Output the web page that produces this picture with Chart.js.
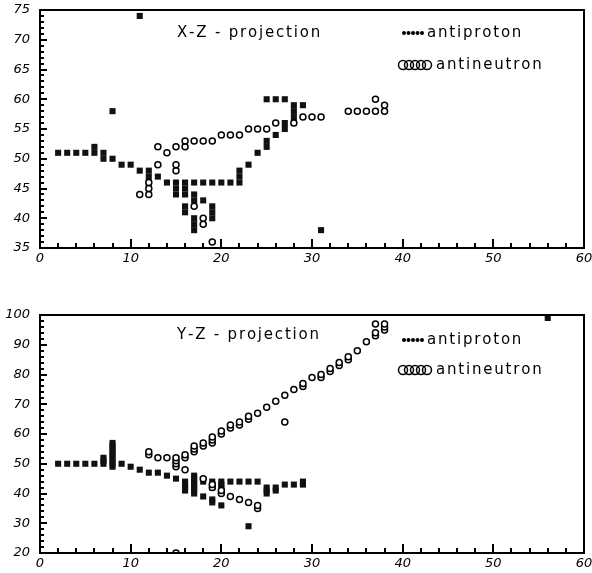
<!DOCTYPE html>
<html>
<head>
<meta charset="utf-8">
<script src="https://cdn.jsdelivr.net/npm/chart.js@4.4.1/dist/chart.umd.min.js"></script>
<style>
  html, body { margin: 0; padding: 0; background: #fff; }
  #wrap { position: relative; width: 592px; height: 573px; }
  #xz { position: absolute; left: 0; top: 0; }
  #yz { position: absolute; left: 0; top: 290px; }
</style>
</head>
<body>
<div id="wrap">
  <canvas id="xz" width="592" height="275"></canvas>
  <canvas id="yz" width="592" height="283"></canvas>
</div>
<script>
// X-Z projection
const xzProtonX = [2,3,4,5,6,6,7,7,8,8,9,10,11,11,12,12,12,12,13,14,15,15,15,16,16,16,16,16,17,17,17,17,17,17,18,18,19,19,19,19,20,21,22,22,22,23,24,25,25,25,26,26,27,27,27,28,28,28,28,29,31];
const xzProtonY = [51,51,51,51,51,52,50,51,50,58,49,49,48,74,45,46,47,48,47,46,44,45,46,41,42,44,45,46,38,39,40,43,44,46,43,46,40,41,42,46,46,46,46,47,48,49,51,52,53,60,54,60,55,56,60,56,57,58,59,59,38];
const xzNeutronX = [11,12,12,12,13,13,14,15,15,15,16,16,17,17,18,18,18,19,19,20,21,22,23,24,25,26,28,29,30,31,34,35,36,37,37,38,38];
const xzNeutronY = [44,44,45,46,49,52,51,48,49,52,52,53,42,53,39,40,53,36,53,54,54,54,55,55,55,56,56,57,57,57,58,58,58,58,60,58,59];

// Y-Z projection
const yzProtonX = [2,3,4,5,6,7,7,7,8,8,8,8,8,8,8,8,8,9,10,11,12,13,14,15,16,16,16,16,17,17,17,17,17,17,17,18,18,19,19,19,19,19,20,20,20,20,20,21,22,23,23,24,25,25,25,26,26,27,28,29,29,56];
const yzProtonY = [50,50,50,50,50,50,51,52,49,50,51,52,53,54,55,56,57,50,49,48,47,47,46,45,41,42,43,44,40,41,42,43,44,45,46,39,44,37,38,42,43,44,36,41,42,43,44,44,44,29,44,44,40,41,42,41,42,43,43,43,44,99];
const yzNeutronX = [12,12,13,14,15,15,15,15,15,16,16,16,17,17,17,18,18,18,19,19,19,19,19,20,20,20,20,21,21,21,22,22,22,23,23,23,24,24,24,25,26,27,27,28,29,29,30,31,31,32,32,33,33,34,34,35,36,37,37,37,38,38,38];
const yzNeutronY = [53,54,52,52,20,49,50,51,52,48,52,53,54,55,56,45,56,57,42,43,57,58,59,40,41,60,61,39,62,63,38,63,64,37,65,66,35,36,67,69,71,64,73,75,76,77,79,79,80,81,82,83,84,85,86,88,91,93,94,97,95,96,97];

const xTicks = [0, 10, 20, 30, 40, 50, 60];

function pts(xs, ys) {
    return xs.map((x, i) => ({ x: x, y: ys[i] }));
}

// wide lettering, one glyph at a time
function spaced(ctx, str, x, y, sp) {
    for (const ch of str) {
        ctx.fillText(ch, x, y);
        x += ctx.measureText(ch).width + sp;
    }
}

// frame, inward ticks, title and hand-drawn key
const decor = {
    id: 'decor',
    afterDraw(chart, args, o) {
        const ctx = chart.ctx;
        const a = chart.chartArea;
        const sx = chart.scales.x, sy = chart.scales.y;
        const L = Math.round(a.left), R = Math.round(a.right);
        const T = Math.round(a.top), B = Math.round(a.bottom);
        ctx.save();
        ctx.fillStyle = '#000';
        for (let v = 0; v <= 60; v += 2) {
            const px = Math.round(sx.getPixelForValue(v));
            const len = v % 10 === 0 ? 9 : 5;
            ctx.fillRect(px - 1, B - len, 2, len);
        }
        for (let v = sy.min; v <= sy.max; v += o.yMinor) {
            const py = Math.round(sy.getPixelForValue(v));
            const len = v % o.yMajor === 0 ? 7 : 4;
            ctx.fillRect(L, py - 1, len, 2);
        }
        ctx.fillRect(L - 1, T - 1, R - L + 2, 2);
        ctx.fillRect(L - 1, B - 1, R - L + 2, 2);
        ctx.fillRect(L - 1, T - 1, 2, B - T + 2);
        ctx.fillRect(R - 1, T - 1, 2, B - T + 2);

        ctx.textBaseline = 'middle';
        ctx.font = '15px "DejaVu Sans"';
        spaced(ctx, o.title, 177, o.titleY, 1.8);

        // key: antiproton
        for (let i = 0; i < 5; i++) {
            ctx.beginPath();
            ctx.arc(404 + i * 4.5, o.keyY[0], 2, 0, Math.PI * 2);
            ctx.fill();
        }
        spaced(ctx, 'antiproton', 427, o.keyY[0], 1.8);
        // key: antineutron
        ctx.strokeStyle = '#000';
        ctx.lineWidth = 1.5;
        for (let i = 0; i < 5; i++) {
            ctx.beginPath();
            ctx.arc(403 + i * 6, o.keyY[1], 4.5, 0, Math.PI * 2);
            ctx.stroke();
        }
        spaced(ctx, 'antineutron', 436, o.keyY[1], 1.8);
        ctx.restore();
    }
};

function makeChart(id, proton, neutron, yMin, yMax, yStep, padTop, xHeight, deco) {
    return new Chart(document.getElementById(id), {
        type: 'scatter',
        data: {
            datasets: [
                {
                    label: 'antineutron',
                    data: neutron,
                    pointStyle: 'circle',
                    pointRadius: 3,
                    borderWidth: 1.5,
                    borderColor: '#000',
                    backgroundColor: '#fff'
                },
                {
                    label: 'antiproton',
                    data: proton,
                    pointStyle: 'rect',
                    pointRadius: 4.3,
                    borderWidth: 0,
                    borderColor: '#111',
                    backgroundColor: '#111'
                }
            ]
        },
        options: {
            responsive: false,
            animation: false,
            layout: { padding: { top: padTop, right: 8, left: 0, bottom: 0 } },
            plugins: {
                legend: { display: false },
                tooltip: { enabled: false },
                decor: deco
            },
            scales: {
                x: {
                    min: 0, max: 60,
                    grid: { display: false, drawTicks: false },
                    border: { display: false },
                    afterFit: s => { s.height = xHeight; s.paddingLeft = 0; s.paddingRight = 0; },
                    afterBuildTicks: s => { s.ticks = xTicks.map(v => ({ value: v })); },
                    ticks: {
                        padding: 3,
                        maxRotation: 0,
                        color: '#000',
                        font: { family: 'DejaVu Sans', size: 13, style: 'italic' }
                    }
                },
                y: {
                    min: yMin, max: yMax,
                    grid: { display: false, drawTicks: false },
                    border: { display: false },
                    afterFit: s => { s.width = 40; s.paddingTop = 0; s.paddingBottom = 0; },
                    ticks: {
                        stepSize: yStep,
                        padding: 10,
                        color: '#000',
                        font: { family: 'DejaVu Sans', size: 13, style: 'italic' }
                    }
                }
            }
        },
        plugins: [decor]
    });
}

makeChart('xz', pts(xzProtonX, xzProtonY), pts(xzNeutronX, xzNeutronY), 35, 75, 5, 10, 27,
    { title: 'X-Z - projection', titleY: 33, keyY: [33, 65], yMinor: 1, yMajor: 5 });
makeChart('yz', pts(yzProtonX, yzProtonY), pts(yzNeutronX, yzNeutronY), 20, 100, 10, 25, 20,
    { title: 'Y-Z - projection', titleY: 45, keyY: [50, 80], yMinor: 2, yMajor: 10 });
</script>
</body>
</html>
